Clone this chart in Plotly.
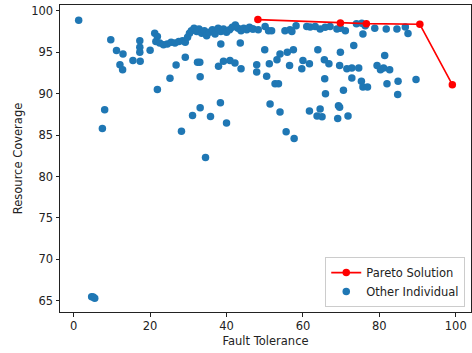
import plotly.graph_objects as go

# Pareto front (fault tolerance vs. resource coverage)
pareto_ft = [48.2, 69.8, 76.6, 90.6, 99.1]
pareto_rc = [98.94, 98.54, 98.45, 98.37, 91.09]

# Remaining individuals of the population
other_ft = [
    1.3, 9.7, 11.2, 12.9, 12.1, 12.8, 15.5, 17.3, 17.3, 17.3, 17.4, 20.0, 21.2, 21.9, 21.5,
    4.7, 5.1, 5.5, 8.1, 7.5, 21.9, 25.2, 26.8, 29.2, 32.4, 33.0, 33.1, 38.5, 43.6,
    37.9, 39.2, 40.9, 42.2, 43.8, 47.9, 47.9, 28.2, 31.1, 33.1, 35.8, 38.4, 40.0, 34.5,
    22.5, 23.5, 24.5, 25.5, 26.5, 27.5, 28.5, 29.2, 29.8, 30.3, 30.8, 31.5, 32.2, 32.8,
    33.5, 34.2, 34.8, 35.5, 36.3, 37.0, 37.8, 38.5, 39.2, 40.0, 40.8, 41.5, 42.3, 43.0,
    43.8, 44.5, 45.3, 46.0, 46.8,
    47.0, 48.3, 50.1, 51.0, 51.8, 55.3, 56.6, 57.1, 58.2,
    61.0, 61.9, 63.2, 64.5, 65.8, 67.1, 68.9, 69.8, 71.1,
    74.0, 75.4, 76.3, 78.8, 81.8, 84.6, 86.8, 87.5, 75.7,
    73.3, 69.8, 63.9, 50.0, 57.5, 55.9, 54.0, 53.2, 51.2, 50.5, 52.7, 53.6, 51.4, 54.0,
    55.6, 57.7, 56.5, 60.0, 61.7, 59.7, 65.6, 66.8, 69.6, 71.5, 72.8, 74.6, 72.8, 65.7,
    65.9, 70.6, 75.3, 75.7, 76.9, 61.7, 64.5, 63.7, 65.0, 69.3, 69.6, 69.1, 71.8,
    79.4, 80.3, 81.1, 82.7, 81.4, 82.0, 84.9, 84.8, 89.6,
]
other_rc = [
    98.85, 96.5, 95.2, 94.8, 93.5, 92.9, 94.0, 96.4, 95.6, 95.0, 93.9, 95.25, 97.3, 96.9, 96.3,
    65.5, 65.45, 65.3, 88.05, 85.8, 90.5, 91.85, 93.45, 94.4, 93.8, 93.8, 92.05, 96.0, 96.1,
    93.3, 93.9, 94.0, 93.7, 93.0, 93.5, 92.6, 85.45, 87.35, 88.3, 87.25, 88.9, 86.45, 82.3,
    96.1, 95.9, 96.0, 96.2, 96.1, 96.3, 96.4, 96.2, 96.8, 97.3, 97.6, 97.9, 97.5, 97.8,
    97.3, 97.6, 97.0, 97.4, 97.7, 97.2, 97.9, 97.5, 97.8, 97.4, 97.7, 98.0, 98.3, 97.9,
    97.6, 97.9, 97.7, 98.0, 97.8,
    97.8, 97.7, 98.1, 97.6, 97.6, 97.6, 97.7, 97.5, 98.2,
    98.1, 98.05, 98.1, 97.8, 98.0, 98.1, 97.8, 97.9, 97.6,
    98.45, 98.5, 98.2, 97.9, 97.8, 97.8, 98.05, 97.25, 97.2,
    95.8, 95.0, 95.3, 95.3, 95.3, 95.0, 94.8, 94.1, 93.6, 92.1, 91.2, 91.2, 88.75, 87.8,
    85.4, 84.6, 93.4, 94.0, 93.6, 93.0, 94.1, 93.6, 93.4, 93.0, 93.1, 93.1, 91.9, 91.8,
    90.0, 90.4, 91.5, 90.8, 90.8, 87.9, 88.15, 87.3, 87.2, 88.55, 88.35, 87.0, 87.3,
    93.4, 92.9, 93.1, 92.9, 94.6, 91.2, 91.5, 89.9, 91.7,
]

x_ticks = [0, 20, 40, 60, 80, 100]
y_ticks = [65, 70, 75, 80, 85, 90, 95, 100]

FONT_SIZE = 11.5
TEXT_COLOR = "#222222"

fig = go.Figure()
fig.add_trace(go.Scatter(
    x=other_ft, y=other_rc, mode="markers", name="Other Individual",
    marker=dict(color="#1f77b4", size=7.5, line=dict(width=0)),
    legendrank=2,
))
fig.add_trace(go.Scatter(
    x=pareto_ft, y=pareto_rc, mode="lines+markers", name="Pareto Solution",
    line=dict(color="#ff0000", width=1.6),
    marker=dict(color="#ff0000", size=7.5),
    legendrank=1,
))

axis_common = dict(
    showline=True, linecolor=TEXT_COLOR, linewidth=1, mirror=True,
    ticks="outside", ticklen=3.5, tickwidth=1, tickcolor=TEXT_COLOR,
    showgrid=False, zeroline=False,
    tickfont=dict(size=FONT_SIZE, color=TEXT_COLOR),
)

fig.update_layout(
    width=472, height=353,
    margin=dict(l=60, r=1, t=5, b=41),
    paper_bgcolor="white", plot_bgcolor="white",
    font=dict(family="DejaVu Sans", size=FONT_SIZE, color=TEXT_COLOR),
    xaxis=dict(range=[-3.59, 103.99], tickvals=x_ticks,
               title=dict(text="Fault Tolerance", standoff=4,
                          font=dict(size=FONT_SIZE, color=TEXT_COLOR)),
               **axis_common),
    yaxis=dict(range=[63.65, 100.7], tickvals=y_ticks,
               title=dict(text="Resource Coverage", standoff=6,
                          font=dict(size=FONT_SIZE, color=TEXT_COLOR)),
               **axis_common),
    legend=dict(
        x=0.986, y=0.016, xanchor="right", yanchor="bottom",
        bgcolor="rgba(255,255,255,0.8)", bordercolor="#cccccc", borderwidth=1,
        font=dict(size=FONT_SIZE), itemwidth=30, tracegroupgap=0,
    ),
    showlegend=True,
)

fig.write_html("out.html")
